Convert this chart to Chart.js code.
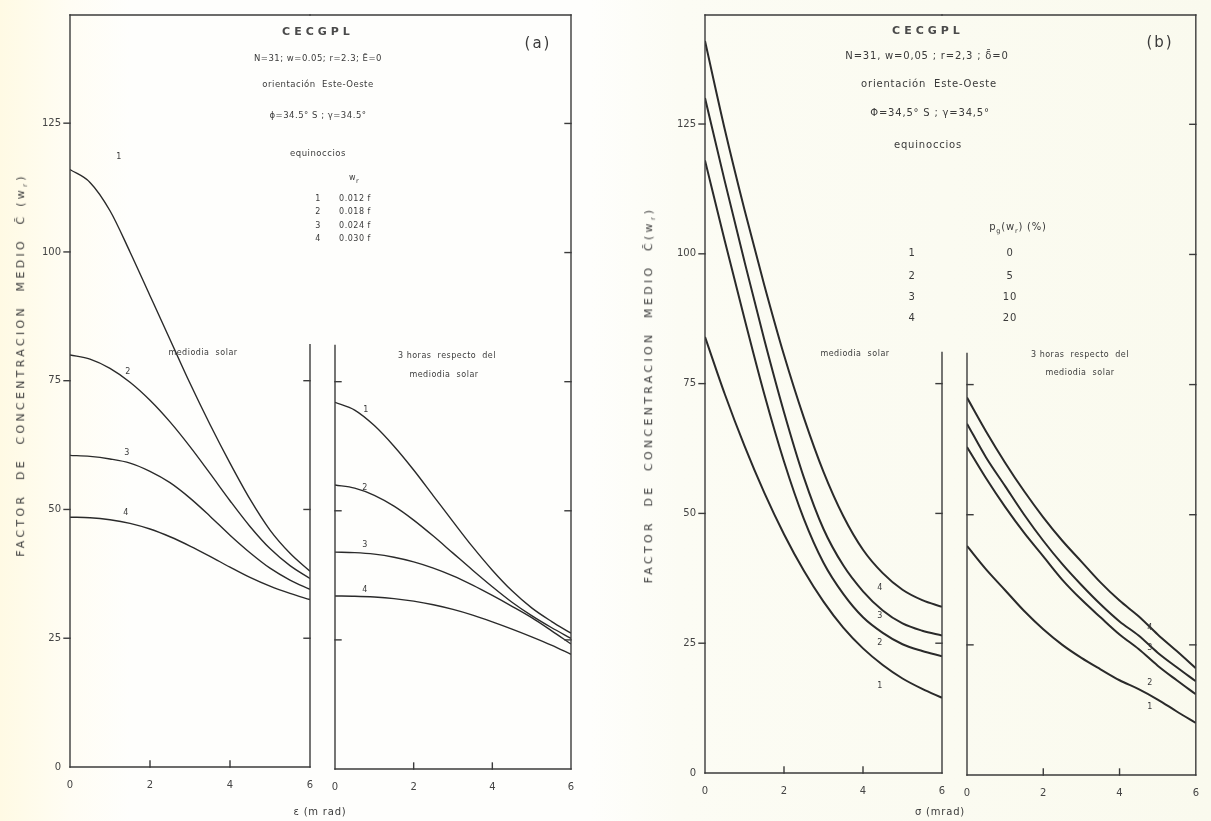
<!DOCTYPE html>
<html><head><meta charset="utf-8">
<script src="https://cdn.jsdelivr.net/npm/chart.js@4"></script>
<style>
html,body{margin:0;padding:0;}
body{width:1211px;height:821px;position:relative;overflow:hidden;
 background:linear-gradient(to right,#fffae4 0px,#fffdf4 70px,#fefefc 130px,#fefefc 590px,#fcfcf4 680px,#fafaee 1211px);
 font-family:'DejaVu Sans',sans-serif;color:#3a3a3a;}
canvas{position:absolute;left:0;top:0;}
.t{position:absolute;white-space:pre;transform:translate(-50%,-50%);font-size:8.5px;letter-spacing:0.5px;line-height:1;}
.tb{font-size:10px;letter-spacing:0.8px;}
.big{font-size:11px;letter-spacing:4px;font-weight:bold;color:#4a4a4a;}
.lab{font-size:8px;}
.rot{transform:translate(-50%,-50%) rotate(-90deg);font-size:11px;letter-spacing:3.3px;}
.pn{font-size:15px;letter-spacing:2px;}
sub{font-size:6.5px;}
</style></head><body>
<canvas id="a1" width="1211" height="821"></canvas>
<canvas id="a2" width="1211" height="821"></canvas>
<canvas id="b1" width="1211" height="821"></canvas>
<canvas id="b2" width="1211" height="821"></canvas>

<!-- panel (a) texts -->
<div class="t big" style="left:318px;top:31px">CECGPL</div>
<div class="t" style="left:318px;top:58px">N=31; w=0.05; r=2.3; Ē=0</div>
<div class="t" style="left:318px;top:84px">orientación  Este-Oeste</div>
<div class="t" style="left:318px;top:115px">ϕ=34.5° S ; γ=34.5°</div>
<div class="t" style="left:318px;top:153px">equinoccios</div>
<div class="t lab" style="left:354px;top:179px">w<sub>r</sub></div>
<div class="t lab" style="left:318px;top:199px">1</div><div class="t lab" style="left:355px;top:199px">0.012 f</div>
<div class="t lab" style="left:318px;top:212px">2</div><div class="t lab" style="left:355px;top:212px">0.018 f</div>
<div class="t lab" style="left:318px;top:226px">3</div><div class="t lab" style="left:355px;top:226px">0.024 f</div>
<div class="t lab" style="left:318px;top:239px">4</div><div class="t lab" style="left:355px;top:239px">0.030 f</div>
<div class="t pn" style="left:538px;top:43px">(a)</div>
<div class="t lab" style="left:203px;top:353px">mediodia  solar</div>
<div class="t lab" style="left:447px;top:356px">3 horas  respecto  del</div>
<div class="t lab" style="left:444px;top:375px">mediodia  solar</div>
<div class="t lab" style="left:119px;top:157px">1</div>
<div class="t lab" style="left:128px;top:372px">2</div>
<div class="t lab" style="left:127px;top:453px">3</div>
<div class="t lab" style="left:126px;top:513px">4</div>
<div class="t lab" style="left:366px;top:410px">1</div>
<div class="t lab" style="left:365px;top:488px">2</div>
<div class="t lab" style="left:365px;top:545px">3</div>
<div class="t lab" style="left:365px;top:590px">4</div>
<div class="t rot" style="left:22px;top:365px">FACTOR  DE  CONCENTRACION  MEDIO  C̄ (w<sub>r</sub>)</div>
<div class="t tb" style="left:320px;top:812px">ε (m rad)</div>

<!-- panel (b) texts -->
<div class="t big" style="left:928px;top:30px">CECGPL</div>
<div class="t tb" style="left:927px;top:56px">N=31, w=0,05 ; r=2,3 ; δ̄=0</div>
<div class="t tb" style="left:929px;top:84px">orientación  Este-Oeste</div>
<div class="t tb" style="left:930px;top:113px">Φ=34,5° S ; γ=34,5°</div>
<div class="t tb" style="left:928px;top:145px">equinoccios</div>
<div class="t tb" style="left:1018px;top:228px">p<sub>g</sub>(w<sub>r</sub>) (%)</div>
<div class="t tb" style="left:912px;top:253px">1</div><div class="t tb" style="left:1010px;top:253px">0</div>
<div class="t tb" style="left:912px;top:276px">2</div><div class="t tb" style="left:1010px;top:276px">5</div>
<div class="t tb" style="left:912px;top:297px">3</div><div class="t tb" style="left:1010px;top:297px">10</div>
<div class="t tb" style="left:912px;top:318px">4</div><div class="t tb" style="left:1010px;top:318px">20</div>
<div class="t pn" style="left:1160px;top:42px">(b)</div>
<div class="t lab" style="left:855px;top:354px">mediodia  solar</div>
<div class="t lab" style="left:1080px;top:355px">3 horas  respecto  del</div>
<div class="t lab" style="left:1080px;top:373px">mediodia  solar</div>
<div class="t lab" style="left:880px;top:588px">4</div>
<div class="t lab" style="left:880px;top:616px">3</div>
<div class="t lab" style="left:880px;top:643px">2</div>
<div class="t lab" style="left:880px;top:686px">1</div>
<div class="t lab" style="left:1150px;top:628px">4</div>
<div class="t lab" style="left:1150px;top:648px">3</div>
<div class="t lab" style="left:1150px;top:683px">2</div>
<div class="t lab" style="left:1150px;top:707px">1</div>
<div class="t rot" style="left:650px;top:395px">FACTOR  DE  CONCENTRACION  MEDIO  C̄(w<sub>r</sub>)</div>
<div class="t tb" style="left:940px;top:812px">σ (mrad)</div>

<script>
// ---------- data ----------
const xValues = [0, 0.5, 1, 1.5, 2, 2.5, 3, 3.5, 4, 4.5, 5, 5.5, 6];
const xTickLabels = [0, 2, 4, 6];
const yTickLabels = [0, 25, 50, 75, 100, 125];
const curveNames = ['1', '2', '3', '4'];

// (a) mediodia solar
const aNoon1 = [116, 113.5, 108, 100, 91.5, 83, 74.5, 66.5, 59, 52, 46, 41.5, 38];
const aNoon2 = [80, 79.2, 77.4, 74.7, 71.2, 67, 62.2, 57, 51.7, 46.7, 42.4, 39.1, 36.6];
const aNoon3 = [60.5, 60.3, 59.8, 59, 57.4, 55.2, 52.2, 48.7, 45, 41.6, 38.6, 36.3, 34.5];
const aNoon4 = [48.5, 48.4, 48, 47.3, 46.2, 44.7, 42.9, 40.9, 38.8, 36.8, 35.1, 33.7, 32.5];
// (a) 3 horas respecto del mediodia solar
const a3h1 = [71, 69.5, 66.5, 62.5, 57.9, 52.9, 47.9, 43, 38.5, 34.5, 31.2, 28.6, 26.3];
const a3h2 = [55, 54.4, 53, 50.9, 48.2, 45.1, 41.8, 38.5, 35.3, 32.3, 29.7, 27.4, 25.3];
const a3h3 = [42, 41.9, 41.6, 41, 40.1, 38.9, 37.4, 35.6, 33.6, 31.5, 29.3, 26.8, 24.2];
const a3h4 = [33.5, 33.45, 33.3, 33, 32.5, 31.8, 30.9, 29.8, 28.5, 27.1, 25.6, 24, 22.2];
// (b) mediodia solar
const bNoon1 = [84, 73, 63, 54, 46, 39, 33, 28, 24, 20.8, 18.2, 16.2, 14.5];
const bNoon2 = [118, 102.5, 87.5, 73, 60, 49, 40.5, 34.5, 30, 27, 24.8, 23.5, 22.5];
const bNoon3 = [130, 114, 98.5, 83.5, 69.5, 57, 47, 40, 35, 31.3, 28.8, 27.4, 26.5];
const bNoon4 = [141, 124, 108.5, 94, 80.5, 68.5, 58, 49.5, 43, 38.5, 35.3, 33.3, 32];
// (b) 3 horas respecto del mediodia solar
const b3h1 = [44, 39.5, 35.5, 31.5, 28, 25, 22.5, 20.3, 18.2, 16.5, 14.5, 12.2, 10];
const b3h2 = [63, 57, 51.5, 46.5, 42, 37.5, 33.7, 30.3, 27, 24.2, 21, 18.2, 15.5];
const b3h3 = [67.5, 61, 55.5, 50, 45, 40.5, 36.5, 32.8, 29.5, 26.8, 23.5, 20.7, 18];
const b3h4 = [72.5, 66, 60, 54.5, 49.5, 45, 41, 37, 33.5, 30.5, 27, 23.8, 20.5];

// ---------- drawing ----------
const Y_MAX = 146;
const LINE = '#3b3b3b';
const W = 1211, H = 821, YW = 40, XH = 30;

const framePlugin = {
  id: 'frame',
  afterDatasetsDraw(chart, args, o) {
    const {ctx, chartArea: ca, scales: {x, y}} = chart;
    ctx.save();
    ctx.strokeStyle = LINE; ctx.lineWidth = 1.4; ctx.lineCap = 'square';
    const line = (x1, y1, x2, y2) => { ctx.beginPath(); ctx.moveTo(x1, y1); ctx.lineTo(x2, y2); ctx.stroke(); };
    const TL = 6;
    line(ca.left, ca.bottom, ca.right, ca.bottom);
    line(ca.left - (o.topExtend || 0), ca.top, ca.right, ca.top);
    xTickLabels.forEach(v => { if (v > 0 && v < 6) { const px = x.getPixelForValue(v); line(px, ca.bottom, px, ca.bottom - TL); } });
    const edge = (spec, xp, dir) => {
      if (spec == null) return;
      const top = spec === true ? ca.top : y.getPixelForValue(spec);
      line(xp, top, xp, ca.bottom);
      yTickLabels.forEach(v => {
        if (v === 0) return;
        const py = y.getPixelForValue(v);
        if (py >= top) line(xp, py, xp + dir * TL, py);
      });
    };
    edge(o.left, ca.left, o.leftOut ? -1 : 1);
    edge(o.right, ca.right, -1);
    ctx.restore();
  }
};

function makeChart(id, series, area, showY, frame, lw) {
  const datasets = series.map((d, i) => ({
    label: curveNames[i],
    data: xValues.map((xv, k) => ({x: xv, y: d[k]})),
    borderColor: '#2a2a2a', borderWidth: lw, pointRadius: 0,
    cubicInterpolationMode: 'monotone', fill: false
  }));
  const tickFont = {family: 'DejaVu Sans', size: 10};
  return new Chart(document.getElementById(id), {
    type: 'line',
    data: {datasets},
    plugins: [framePlugin],
    options: {
      responsive: false, animation: false, devicePixelRatio: 1,
      layout: {padding: {left: area.l - (showY ? YW : 0), right: W - area.r, top: area.t, bottom: H - area.b - XH}},
      plugins: {legend: {display: false}, tooltip: {enabled: false}, frame},
      scales: {
        x: {type: 'linear', min: 0, max: 6,
            afterBuildTicks: s => { s.ticks = xTickLabels.map(v => ({value: v})); },
            afterFit: s => { s.height = XH; },
            grid: {display: false, drawTicks: false}, border: {display: false},
            ticks: {color: '#444', font: tickFont, padding: 12, maxRotation: 0}},
        y: {type: 'linear', min: 0, max: Y_MAX, display: showY,
            afterBuildTicks: s => { s.ticks = yTickLabels.map(v => ({value: v})); },
            afterFit: s => { s.width = showY ? YW : 0; },
            grid: {display: false, drawTicks: false}, border: {display: false},
            ticks: {color: '#444', font: tickFont, padding: 9}}
      }
    }
  });
}

makeChart('a1', [aNoon1, aNoon2, aNoon3, aNoon4], {l: 70, r: 310, t: 15, b: 767}, true,
  {left: true, leftOut: true, right: 82}, 1.4);
makeChart('a2', [a3h1, a3h2, a3h3, a3h4], {l: 335, r: 571, t: 15, b: 769}, false,
  {left: 82, right: true, topExtend: 25}, 1.4);
makeChart('b1', [bNoon1, bNoon2, bNoon3, bNoon4], {l: 705, r: 942, t: 15, b: 773}, true,
  {left: true, leftOut: true, right: 81}, 2);
makeChart('b2', [b3h1, b3h2, b3h3, b3h4], {l: 967, r: 1203, t: 15, b: 775}, false,
  {left: 81, right: true, topExtend: 25}, 2);
</script>
</body></html>
